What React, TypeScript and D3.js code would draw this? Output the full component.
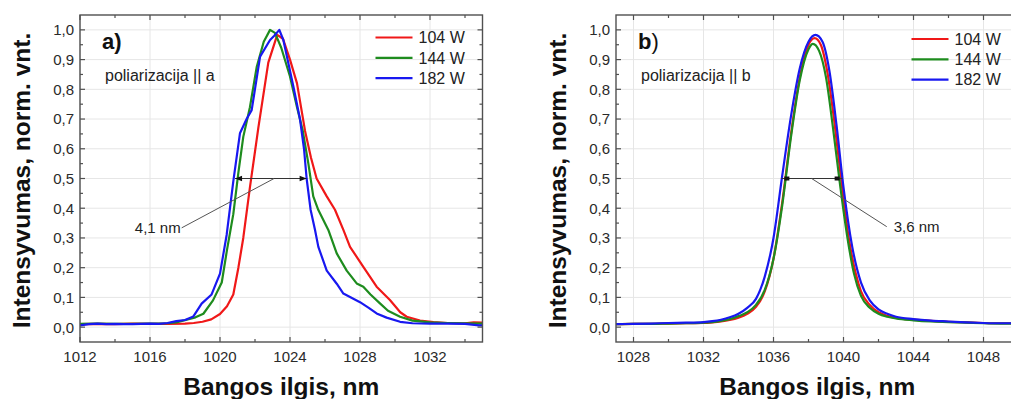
import React from "react";
import * as d3 from "d3";

// ---------- data ----------
const seriesNames = ["104 W", "144 W", "182 W"];
const seriesColors = ["#f01818", "#1e8c1e", "#1818f0"];

const xTicksA = [1012, 1016, 1020, 1024, 1028, 1032];
const xTicksB = [1028, 1032, 1036, 1040, 1044, 1048];
const yTicks = [0, 0.1, 0.2, 0.3, 0.4, 0.5, 0.6, 0.7, 0.8, 0.9, 1.0];

// panel a) polarisation || a
const aRed: [number, number][] = [
  [1012, 0.010], [1013, 0.011], [1014, 0.010], [1015, 0.012], [1016, 0.011], [1017, 0.011],
  [1018, 0.012], [1018.5, 0.014], [1019, 0.018], [1019.5, 0.026], [1020, 0.044], [1020.4, 0.07],
  [1020.76, 0.11], [1021.05, 0.2], [1021.33, 0.3], [1021.71, 0.47], [1022.19, 0.67], [1022.76, 0.89],
  [1023.27, 0.983], [1023.6, 0.97], [1024, 0.9], [1024.4, 0.82], [1024.86, 0.66], [1025.2, 0.57],
  [1025.52, 0.5], [1026.1, 0.44], [1026.57, 0.395], [1027.05, 0.327], [1027.43, 0.27], [1028.19, 0.203],
  [1028.95, 0.136], [1029.71, 0.091], [1030.3, 0.05], [1030.67, 0.035], [1031.43, 0.022], [1032.2, 0.017],
  [1033, 0.014], [1034, 0.013], [1034.5, 0.016], [1035, 0.015],
];
const aGreen: [number, number][] = [
  [1012, 0.011], [1013, 0.012], [1014, 0.011], [1015, 0.011], [1016, 0.012], [1017, 0.013],
  [1017.5, 0.016], [1018.1, 0.025], [1018.6, 0.033], [1019.05, 0.045], [1019.6, 0.09], [1020.1, 0.15],
  [1020.4, 0.26], [1020.76, 0.38], [1021.05, 0.52], [1021.33, 0.64], [1021.71, 0.74], [1022.1, 0.876],
  [1022.5, 0.96], [1022.86, 1.0], [1023.14, 0.99], [1023.5, 0.94], [1024, 0.843], [1024.4, 0.74],
  [1024.72, 0.663], [1025.05, 0.55], [1025.33, 0.44], [1025.62, 0.394], [1026.19, 0.327], [1026.67, 0.248],
  [1027.24, 0.19], [1027.81, 0.147], [1028.19, 0.136], [1028.6, 0.11], [1029.14, 0.08], [1029.6, 0.055],
  [1030.29, 0.035], [1031, 0.022], [1032, 0.016], [1033, 0.014], [1034, 0.013], [1035, 0.012],
];
const aBlue: [number, number][] = [
  [1012, 0.006], [1012.5, 0.01], [1013, 0.012], [1013.5, 0.01], [1014, 0.011], [1014.5, 0.01],
  [1015, 0.01], [1015.5, 0.011], [1016, 0.012], [1016.5, 0.011], [1017, 0.014], [1017.5, 0.02],
  [1018, 0.024], [1018.48, 0.036], [1018.95, 0.079], [1019.52, 0.11], [1020, 0.18], [1020.38, 0.31],
  [1020.76, 0.49], [1021.14, 0.652], [1021.52, 0.7], [1021.81, 0.73], [1022.29, 0.91], [1022.86, 0.966],
  [1023.1, 0.98], [1023.39, 1.0], [1023.62, 0.966], [1024.19, 0.81], [1024.57, 0.7], [1024.8, 0.6],
  [1024.95, 0.5], [1025.18, 0.394], [1025.43, 0.327], [1025.62, 0.27], [1026.1, 0.19], [1026.67, 0.146],
  [1027.05, 0.113], [1028, 0.084], [1028.5, 0.065], [1028.95, 0.046], [1029.52, 0.032], [1030.29, 0.018],
  [1031, 0.013], [1032, 0.012], [1033, 0.012], [1034, 0.011], [1034.8, 0.006], [1035, 0.006],
];

// panel b) polarisation || b
const bRed: [number, number][] = [
  [1027, 0.01], [1028, 0.011], [1029, 0.011], [1030, 0.012], [1031, 0.013], [1032, 0.014],
  [1032.5, 0.016], [1033, 0.019], [1033.5, 0.024], [1034, 0.032], [1034.5, 0.045], [1035, 0.068],
  [1035.5, 0.12], [1036, 0.23], [1036.5, 0.42], [1037, 0.65], [1037.5, 0.84], [1038, 0.95],
  [1038.35, 0.972], [1038.7, 0.95], [1039.1, 0.85], [1039.5, 0.68], [1039.9, 0.48], [1040.3, 0.3],
  [1040.7, 0.18], [1041, 0.12], [1041.5, 0.075], [1042, 0.05], [1042.5, 0.038], [1043, 0.031],
  [1044, 0.025], [1045, 0.021], [1046, 0.018], [1047, 0.016], [1048, 0.014], [1049, 0.013], [1050, 0.013],
];
const bGreen: [number, number][] = [
  [1027, 0.01], [1028, 0.011], [1029, 0.011], [1030, 0.012], [1031, 0.013], [1032, 0.015],
  [1032.5, 0.017], [1033, 0.021], [1033.5, 0.027], [1034, 0.037], [1034.5, 0.05], [1035, 0.075],
  [1035.5, 0.125], [1036, 0.23], [1036.5, 0.41], [1037, 0.64], [1037.5, 0.83], [1038, 0.935],
  [1038.25, 0.953], [1038.6, 0.93], [1039, 0.84], [1039.4, 0.67], [1039.8, 0.48], [1040.2, 0.31],
  [1040.6, 0.18], [1041, 0.105], [1041.5, 0.065], [1042, 0.045], [1042.5, 0.035], [1043, 0.029],
  [1044, 0.023], [1045, 0.019], [1046, 0.017], [1047, 0.015], [1048, 0.013], [1049, 0.012], [1050, 0.012],
];
const bBlue: [number, number][] = [
  [1027, 0.01], [1028, 0.011], [1029, 0.012], [1030, 0.014], [1031, 0.015], [1032, 0.017],
  [1032.5, 0.02], [1033, 0.025], [1033.5, 0.033], [1034, 0.045], [1034.5, 0.065], [1035, 0.095],
  [1035.5, 0.17], [1036, 0.3], [1036.5, 0.51], [1037, 0.71], [1037.5, 0.87], [1038, 0.96],
  [1038.4, 0.983], [1038.8, 0.96], [1039.2, 0.86], [1039.6, 0.68], [1040, 0.47], [1040.5, 0.27],
  [1041, 0.15], [1041.5, 0.09], [1042, 0.06], [1042.5, 0.045], [1043, 0.035], [1044, 0.027],
  [1045, 0.022], [1046, 0.019], [1047, 0.016], [1048, 0.014], [1049, 0.013], [1050, 0.013],
];

// FWHM annotations
const fwhmA = { x0: 1020.86, x1: 1024.95, y: 0.5, lx0: 1023.09, lx1: 1017.81, ly1: 0.334, label: "4,1 nm" };
const fwhmB = { x0: 1036.45, x1: 1039.95, y: 0.5, lx0: 1038.18, lx1: 1042.47, ly1: 0.338, label: "3,6 nm" };

const FONT = "'Liberation Sans', Arial, Helvetica, sans-serif";
const W = 1011;
const H = 399;

const y = d3.scaleLinear().domain([-0.05, 1.05]).range([342, 15]);

type PanelProps = {
  id: string;
  x: d3.ScaleLinear<number, number>;
  xTicks: number[];
  series: [number, number][][];
  curve: d3.CurveFactory;
  tag: string;
  tagBoldParen: boolean;
  pol: string;
  fwhm: typeof fwhmA;
  arrows: boolean;
  legendDy: number;
};

function Panel({ id, x, xTicks, series, curve, tag, tagBoldParen, pol, fwhm, arrows, legendDy }: PanelProps) {
  const [x0, x1] = x.range();
  const [yb, yt] = y.range();
  const [d0, d1] = x.domain();
  const minorX: number[] = [];
  for (let v = Math.ceil(d0); v <= d1; v += 1) {
    if (Math.round(v) % 2 === 0 && !xTicks.includes(v)) minorX.push(v);
  }
  const minorY = yTicks.map((v) => v + 0.05).filter((v) => v < 1.04);
  const line = d3
    .line<[number, number]>()
    .x((d) => x(d[0]))
    .y((d) => y(d[1]))
    .curve(curve);
  const cx = (x0 + x1) / 2;
  const tickCol = "#505050";
  const lblCol = "#2a2a2a";
  return (
    <g>
      <defs>
        <clipPath id={`clip-${id}`}>
          <rect x={x0} y={yt} width={x1 - x0} height={yb - yt} />
        </clipPath>
      </defs>
      {/* grid */}
      {xTicks.map((t) => (
        <line key={`gx${t}`} x1={x(t)} x2={x(t)} y1={yt} y2={yb} stroke="#e6e6e6" strokeWidth={1} />
      ))}
      {yTicks.map((t) => (
        <line key={`gy${t}`} x1={x0} x2={x1} y1={y(t)} y2={y(t)} stroke="#e6e6e6" strokeWidth={1} />
      ))}
      {/* curves */}
      <g clipPath={`url(#clip-${id})`}>
        {series.map((s, i) => (
          <path key={i} d={line(s) || ""} fill="none" stroke={seriesColors[i]} strokeWidth={2.2} strokeLinejoin="round" />
        ))}
      </g>
      {/* frame */}
      <rect x={x0} y={yt} width={x1 - x0} height={yb - yt} fill="none" stroke={tickCol} strokeWidth={1.4} />
      {/* ticks (inward) */}
      {xTicks.map((t) => (
        <g key={`tx${t}`}>
          <line x1={x(t)} x2={x(t)} y1={yb} y2={yb - 5} stroke={tickCol} strokeWidth={1.2} />
          <line x1={x(t)} x2={x(t)} y1={yt} y2={yt + 5} stroke={tickCol} strokeWidth={1.2} />
          <text x={x(t)} y={362} textAnchor="middle" fontFamily={FONT} fontSize={15} fill={lblCol}>
            {t}
          </text>
        </g>
      ))}
      {minorX.map((t) => (
        <g key={`mx${t}`}>
          <line x1={x(t)} x2={x(t)} y1={yb} y2={yb - 3} stroke={tickCol} strokeWidth={1.2} />
          <line x1={x(t)} x2={x(t)} y1={yt} y2={yt + 3} stroke={tickCol} strokeWidth={1.2} />
        </g>
      ))}
      {yTicks.map((t) => (
        <g key={`ty${t}`}>
          <line x1={x0} x2={x0 + 5} y1={y(t)} y2={y(t)} stroke={tickCol} strokeWidth={1.2} />
          <line x1={x1} x2={x1 - 5} y1={y(t)} y2={y(t)} stroke={tickCol} strokeWidth={1.2} />
          <text x={x0 - 6} y={y(t)} dy="0.36em" textAnchor="end" fontFamily={FONT} fontSize={15} fill={lblCol}>
            {t.toFixed(1).replace(".", ",")}
          </text>
        </g>
      ))}
      {minorY.map((t) => (
        <g key={`my${t}`}>
          <line x1={x0} x2={x0 + 3} y1={y(t)} y2={y(t)} stroke={tickCol} strokeWidth={1.2} />
          <line x1={x1} x2={x1 - 3} y1={y(t)} y2={y(t)} stroke={tickCol} strokeWidth={1.2} />
        </g>
      ))}
      {/* axis titles */}
      <text x={cx} y={395} textAnchor="middle" fontFamily={FONT} fontWeight="bold" fontSize={24.5} fill="#111">
        Bangos ilgis, nm
      </text>
      <text
        transform={`translate(${x0 - 50},180.5) rotate(-90)`}
        textAnchor="middle"
        fontFamily={FONT}
        fontWeight="bold"
        fontSize={24.5}
        fill="#111"
      >
        Intensyvumas, norm. vnt.
      </text>
      {/* panel tag */}
      <text x={x0 + 22} y={49} fontFamily={FONT} fontSize={22} fill="#111">
        <tspan fontWeight="bold">{tag}</tspan>
        <tspan fontWeight={tagBoldParen ? "bold" : "normal"}>)</tspan>
      </text>
      <text x={x0 + 25} y={81} fontFamily={FONT} fontSize={16} fill="#222">
        {pol}
      </text>
      {/* legend */}
      {seriesNames.map((n, i) => (
        <g key={n}>
          <line
            x1={x1 - 107}
            x2={x1 - 70}
            y1={37.5 + legendDy + i * 20.3}
            y2={37.5 + legendDy + i * 20.3}
            stroke={seriesColors[i]}
            strokeWidth={2.2}
          />
          <text x={x1 - 64} y={37.5 + legendDy + i * 20.3} dy="0.36em" fontFamily={FONT} fontSize={16} fill="#222">
            {n}
          </text>
        </g>
      ))}
      {/* FWHM annotation */}
      <line x1={x(fwhm.x0)} x2={x(fwhm.x1)} y1={y(fwhm.y)} y2={y(fwhm.y)} stroke="#333" strokeWidth={1} />
      {arrows ? (
        <g fill="#111">
          <path d={`M${x(fwhm.x0)},${y(fwhm.y)} l7,-2.8 l0,5.6 z`} />
          <path d={`M${x(fwhm.x1)},${y(fwhm.y)} l-7,-2.8 l0,5.6 z`} />
        </g>
      ) : (
        <g fill="#111">
          <rect x={x(fwhm.x0) + 3} y={y(fwhm.y) - 2} width={5} height={4} />
          <rect x={x(fwhm.x1) - 8} y={y(fwhm.y) - 2} width={5} height={4} />
        </g>
      )}
      <line x1={x(fwhm.lx0)} x2={x(fwhm.lx1)} y1={y(fwhm.y)} y2={y(fwhm.ly1)} stroke="#555" strokeWidth={1} />
      {arrows ? (
        <text x={x(fwhm.lx1) - 1} y={y(fwhm.ly1)} dy="0.36em" textAnchor="end" fontFamily={FONT} fontSize={15} fill="#222">
          {fwhm.label}
        </text>
      ) : (
        <text x={x(fwhm.lx1) + 7} y={y(fwhm.ly1)} dy="0.36em" textAnchor="start" fontFamily={FONT} fontSize={15} fill="#222">
          {fwhm.label}
        </text>
      )}
    </g>
  );
}

export default function App() {
  const xA = d3.scaleLinear().domain([1012, 1035]).range([80, 482.5]);
  const xB = d3.scaleLinear().domain([1027, 1050]).range([616, 1018.5]);
  return (
    <svg
      width={W}
      height={H}
      viewBox={`0 0 ${W} ${H}`}
      style={{ position: "absolute", left: 0, top: 0, background: "#fff", overflow: "hidden" }}
    >
      <rect x={0} y={0} width={W} height={H} fill="#fff" />
      <Panel
        id="a"
        x={xA}
        xTicks={xTicksA}
        series={[aRed, aGreen, aBlue]}
        curve={d3.curveLinear}
        tag="a"
        tagBoldParen={true}
        pol="poliarizacija || a"
        fwhm={fwhmA}
        arrows={true}
        legendDy={0}
      />
      <Panel
        id="b"
        x={xB}
        xTicks={xTicksB}
        series={[bRed, bGreen, bBlue]}
        curve={d3.curveMonotoneX}
        tag="b"
        tagBoldParen={false}
        pol="poliarizacija || b"
        fwhm={fwhmB}
        arrows={false}
        legendDy={1.5}
      />
    </svg>
  );
}
